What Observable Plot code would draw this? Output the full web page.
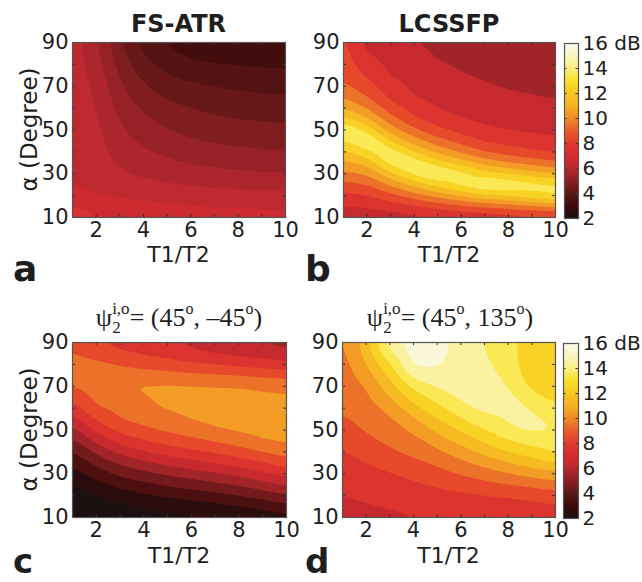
<!DOCTYPE html>
<html><head><meta charset="utf-8">
<script src="https://cdn.jsdelivr.net/npm/d3@7"></script>
<script src="https://cdn.jsdelivr.net/npm/@observablehq/plot@0.6"></script>
<style>
html,body{margin:0;padding:0;background:#fff;}
#root{position:relative;width:642px;height:582px;overflow:hidden;background:#fff;}
#root > svg{position:absolute;}
</style></head><body><div id="root"></div>
<script>
// ---------- axes / categories ----------
const T = [1, 2, 3, 4, 5, 6, 7, 8, 9, 10];                 // T1/T2 sample columns
const alpha5 = [90, 85, 80, 75, 70, 65, 60, 55, 50, 45, 40, 35, 30, 25, 20, 15, 10];
const alpha10 = [90, 80, 70, 60, 50, 40, 30, 20, 10];
const xTickLabels = [2, 4, 6, 8, 10];
const yTickLabels = [10, 30, 50, 70, 90];
const xTickMarks = [2, 3, 4, 5, 6, 7, 8, 9];
const yTickMarks = [20, 30, 40, 50, 60, 70, 80];
const cbTicks = [2, 4, 6, 8, 10, 12, 14, 16];

// ---------- colour map (dB) ----------
const cbStops = [2, 3, 4, 5, 6, 7, 8, 9, 10, 11, 12, 13, 14, 15, 16];
const cbColors = ["#1c1010", "#3c0a0a", "#5c1616", "#8a1f22", "#b82830", "#d42c2e", "#e23a2c",
  "#ea5a2a", "#f08a28", "#f5b024", "#f6c622", "#f9e02a", "#faf080", "#f9f4c0", "#fafaf0"];

// ---------- contour levels ----------
const levelsA = [2, 2.5, 3, 3.5, 4, 4.5, 5, 5.5, 6, 6.5, 7, 7.5];
const levelsB = [2, 3, 4, 5, 6, 7, 8, 9, 10, 11, 12, 13, 14, 15];
const levelsC = [-5, 2, 3, 4, 5, 6, 7, 8, 9, 10, 11];
const levelsD = [2, 3, 4, 5, 6, 7, 8, 9, 10, 11, 12, 13, 14, 15];

// ---------- (a) FS-ATR, rows alpha 90..10 step 10, cols T1..T10 ----------
const fsAtr = [
  [6.25, 5.62, 4.52, 3.80, 3.40, 3.20, 3.10, 3.05, 3.02, 3.01],
  [6.28, 5.75, 4.83, 4.14, 3.80, 3.60, 3.52, 3.48, 3.44, 3.42],
  [6.30, 5.92, 5.10, 4.57, 4.25, 4.08, 4.02, 3.92, 3.88, 3.85],
  [6.33, 6.05, 5.33, 4.93, 4.64, 4.52, 4.38, 4.31, 4.27, 4.23],
  [6.36, 6.12, 5.55, 5.25, 5.02, 4.86, 4.76, 4.69, 4.65, 4.62],
  [6.40, 6.20, 5.80, 5.57, 5.38, 5.25, 5.16, 5.10, 5.05, 5.02],
  [6.45, 6.30, 6.05, 5.90, 5.80, 5.70, 5.63, 5.58, 5.53, 5.51],
  [6.60, 6.45, 6.42, 6.35, 6.30, 6.25, 6.20, 6.18, 6.17, 6.15],
  [7.50, 7.15, 7.05, 6.98, 6.85, 6.80, 6.78, 6.75, 6.72, 6.70]
];

// ---------- (b) LCSSFP, rows alpha 90..10 step 5 ----------
const lcssfp = [
  [8.20, 6.70, 6.35, 6.05, 5.80, 5.65, 5.55, 5.45, 5.40, 5.35],
  [8.37, 7.02, 6.55, 6.25, 5.90, 5.78, 5.67, 5.55, 5.50, 5.45],
  [8.60, 7.43, 6.75, 6.45, 6.09, 5.90, 5.78, 5.67, 5.60, 5.55],
  [8.83, 7.86, 6.95, 6.65, 6.30, 6.05, 5.90, 5.80, 5.72, 5.68],
  [9.20, 8.40, 7.34, 6.80, 6.52, 6.28, 6.10, 5.92, 5.85, 5.80],
  [9.93, 8.99, 7.79, 6.99, 6.74, 6.52, 6.34, 6.16, 6.05, 5.95],
  [11.00, 9.89, 8.45, 7.53, 6.96, 6.76, 6.58, 6.43, 6.32, 6.22],
  [12.33, 11.10, 9.38, 8.16, 7.51, 7.02, 6.82, 6.69, 6.59, 6.50],
  [14.05, 12.63, 10.55, 9.20, 8.23, 7.65, 7.18, 6.96, 6.86, 6.78],
  [12.91, 14.25, 11.91, 10.49, 9.37, 8.53, 7.88, 7.58, 7.35, 7.14],
  [11.82, 12.66, 13.70, 11.94, 10.76, 9.80, 8.98, 8.51, 8.08, 7.86],
  [10.75, 11.37, 13.50, 13.80, 12.43, 11.52, 10.57, 10.02, 9.57, 9.17],
  [9.75, 10.17, 11.75, 13.30, 14.25, 13.60, 12.50, 12.02, 11.50, 11.02],
  [8.62, 9.02, 10.19, 11.38, 12.46, 13.50, 14.30, 14.00, 13.60, 13.30],
  [7.74, 7.94, 8.67, 9.52, 10.33, 11.05, 11.83, 12.29, 12.81, 13.30],
  [7.02, 7.16, 7.48, 7.83, 8.24, 8.68, 9.06, 9.35, 9.69, 10.07],
  [6.05, 6.10, 6.40, 6.60, 6.85, 6.97, 7.10, 7.25, 7.38, 7.50]
];

// ---------- (c) psi = (45, -45), rows alpha 90..10 step 5 ----------
const psiMinus45 = [
  [8.60, 8.02, 7.60, 7.30, 6.95, 6.75, 6.40, 6.10, 5.90, 5.60],
  [9.04, 8.62, 8.21, 7.88, 7.62, 7.20, 6.90, 6.70, 6.53, 6.23],
  [9.51, 9.24, 8.93, 8.67, 8.45, 8.21, 8.02, 7.71, 7.48, 7.29],
  [9.45, 9.85, 9.58, 9.46, 9.36, 9.23, 9.10, 9.02, 8.87, 8.74],
  [9.04, 9.56, 9.86, 10.25, 10.14, 10.08, 10.03, 10.02, 9.82, 9.66],
  [8.34, 9.28, 9.59, 9.93, 10.48, 10.45, 10.38, 10.32, 10.23, 10.16],
  [7.56, 8.97, 9.32, 9.60, 10.07, 10.40, 10.60, 10.65, 10.53, 10.43],
  [6.65, 8.15, 9.05, 9.27, 9.63, 10.05, 10.28, 10.46, 10.59, 10.70],
  [5.63, 7.28, 8.30, 8.84, 9.17, 9.49, 9.92, 10.15, 10.31, 10.43],
  [4.74, 6.23, 7.39, 7.92, 8.40, 8.76, 9.10, 9.52, 10.03, 10.16],
  [3.93, 5.18, 6.31, 6.95, 7.43, 7.78, 8.12, 8.52, 9.02, 9.57],
  [3.27, 4.28, 5.20, 5.76, 6.30, 6.73, 7.12, 7.48, 7.94, 8.47],
  [2.57, 3.47, 4.24, 4.70, 5.14, 5.51, 5.88, 6.33, 6.84, 7.37],
  [1.90, 2.67, 3.35, 3.75, 4.14, 4.44, 4.73, 5.08, 5.55, 6.13],
  [1.30, 1.98, 2.45, 2.81, 3.14, 3.42, 3.70, 4.02, 4.40, 4.85],
  [0.80, 1.40, 1.80, 2.10, 2.30, 2.40, 2.60, 2.90, 3.24, 3.71],
  [0.40, 0.90, 1.20, 1.50, 1.70, 1.80, 1.95, 2.20, 2.30, 2.50]
];

// ---------- (d) psi = (45, 135), rows alpha 90..10 step 10 ----------
const psi135 = [
  [9.70, 11.55, 14.80, 15.80, 15.40, 14.60, 13.90, 13.40, 12.40, 12.20],
  [9.50, 10.89, 12.85, 15.40, 15.10, 14.60, 14.20, 13.50, 12.30, 12.20],
  [9.30, 9.92, 11.50, 13.27, 14.10, 14.60, 14.40, 14.05, 12.60, 12.45],
  [9.10, 9.52, 10.25, 11.67, 12.71, 13.69, 14.45, 14.40, 14.02, 13.07],
  [8.62, 9.12, 9.53, 10.14, 11.23, 12.15, 13.02, 13.90, 14.35, 14.20],
  [7.91, 8.36, 8.89, 9.28, 9.74, 10.45, 11.27, 12.02, 12.60, 13.26],
  [7.45, 7.68, 7.91, 8.24, 8.60, 9.02, 9.42, 9.90, 10.36, 10.75],
  [7.02, 7.16, 7.32, 7.48, 7.62, 7.74, 7.90, 7.97, 8.15, 8.37],
  [6.50, 6.70, 6.80, 6.90, 6.95, 7.02, 7.10, 7.20, 7.30, 7.40]
];

const root = document.getElementById("root");
const FONT = "DejaVu Sans, Liberation Sans, sans-serif";

function place(node, left, top) {
  node.style.left = left + "px";
  node.style.top = top + "px";
  root.appendChild(node);
}

function panel({grid, rows, levels, step, blur, frame, svgLeft, svgTop, mr}) {
  const [fx, fy, fw, fh] = frame;
  const ml = fx - svgLeft, mt = fy - svgTop, mb = 40;
  const points = grid.flatMap((row, i) => row.map((v, j) => ({T: T[j], alpha: rows[i], v})));
  const plot = Plot.plot({
    width: ml + fw + mr, height: mt + fh + mb,
    marginLeft: ml, marginTop: mt, marginRight: mr, marginBottom: mb,
    style: {fontFamily: FONT, fontSize: "21px", background: "transparent", color: "#1e1e1e", overflow: "visible"},
    x: {domain: [1, 10], label: null},
    y: {domain: [10, 90], label: null},
    color: {type: "linear", domain: cbStops.map(s => s - step / 2), range: cbColors, clamp: true, interpolate: "rgb"},
    marks: [
      Plot.contour(points, {
        x: "T", y: "alpha", fill: "v", interpolate: "barycentric",
        thresholds: levels, blur, pixelSize: 1, clip: true
      }),
      Plot.tickX(xTickMarks, {x: d => d, insetTop: fh - 3, stroke: "#333"}),
      Plot.tickX(xTickMarks, {x: d => d, insetBottom: fh - 3, stroke: "#333"}),
      Plot.tickY(yTickMarks, {y: d => d, insetRight: fw - 3, stroke: "#333"}),
      Plot.tickY(yTickMarks, {y: d => d, insetLeft: fw - 3, stroke: "#333"}),
      Plot.frame({stroke: "#555", strokeWidth: 1.2}),
      Plot.axisX(xTickLabels, {tickSize: 0, tickPadding: 5, label: null, fontSize: 21}),
      Plot.axisY(yTickLabels, {tickSize: 0, tickPadding: 4, label: null, fontSize: 21})
    ]
  });
  place(plot, svgLeft, svgTop);
}

function colorbar({frame, svgLeft, svgTop}) {
  const [fx, fy, fw, fh] = frame;
  const ml = fx - svgLeft, mt = fy - svgTop, mr = 642 - (fx + fw), mb = 20;
  const plot = Plot.plot({
    width: ml + fw + mr, height: mt + fh + mb,
    marginLeft: ml, marginTop: mt, marginRight: mr, marginBottom: mb,
    style: {fontFamily: FONT, fontSize: "20px", background: "transparent", color: "#1e1e1e", overflow: "visible"},
    x: {domain: [0, 1], axis: null},
    y: {domain: [cbStops[0], cbStops[cbStops.length - 1]], axis: null},
    color: {type: "linear", domain: cbStops, range: cbColors, interpolate: "rgb"},
    marks: [
      Plot.raster({x1: 0, x2: 1, y1: cbStops[0], y2: cbStops[cbStops.length - 1], fill: (x, y) => y, pixelSize: 1}),
      Plot.tickY(cbTicks, {y: d => d, insetRight: fw - 2.5, stroke: "#333"}),
      Plot.tickY(cbTicks, {y: d => d, insetLeft: fw - 2.5, stroke: "#333"}),
      Plot.frame({stroke: "#555", strokeWidth: 1.2}),
      Plot.axisY(cbTicks, {anchor: "right", tickSize: 0, tickPadding: 4, label: null, fontSize: 20,
        tickFormat: d => d === 16 ? "16 dB" : String(d)})
    ]
  });
  place(plot, svgLeft, svgTop);
}

panel({grid: fsAtr, rows: alpha10, levels: levelsA, step: 0.5, blur: 7, frame: [72, 42, 213, 175], svgLeft: 0, svgTop: 0, mr: 14});
panel({grid: lcssfp, rows: alpha5, levels: levelsB, step: 1, blur: 4, frame: [343, 42, 212, 175], svgLeft: 300, svgTop: 0, mr: 5});
colorbar({frame: [564, 43, 14, 175], svgLeft: 560, svgTop: 0});
panel({grid: psiMinus45, rows: alpha5, levels: levelsC, step: 1, blur: 5, frame: [72, 342, 214, 175], svgLeft: 0, svgTop: 300, mr: 14});
panel({grid: psi135, rows: alpha10, levels: levelsD, step: 1, blur: 7, frame: [342, 342, 213, 175], svgLeft: 300, svgTop: 300, mr: 5});
colorbar({frame: [563, 343, 15, 175], svgLeft: 560, svgTop: 300});

// ---------- text overlay ----------
const svg = d3.select(root).append("svg").attr("width", 642).attr("height", 582)
  .style("left", "0px").style("top", "0px").style("pointer-events", "none")
  .attr("font-family", FONT).attr("fill", "#1e1e1e");

function txt(x, y, s, size, opts = {}) {
  const t = svg.append("text").attr("x", x).attr("y", y).attr("font-size", size)
    .attr("text-anchor", opts.anchor || "middle").text(s);
  if (opts.bold) t.attr("font-weight", "bold");
  if (opts.rotate) t.attr("transform", `rotate(-90,${x},${y})`);
  return t;
}

txt(178.5, 32, "FS-ATR", 24, {bold: true});
txt(449, 32, "LCSSFP", 24, {bold: true});
for (const cy of [129.5, 429.5]) txt(37, cy, "α (Degree)", 23, {rotate: true});
txt(178.5, 262, "T1/T2", 22);
txt(449, 262, "T1/T2", 22);
txt(179, 563, "T1/T2", 22);
txt(448.5, 563, "T1/T2", 22);
txt(13, 281, "a", 36, {bold: true, anchor: "start"});
txt(305, 281, "b", 36, {bold: true, anchor: "start"});
txt(13, 573, "c", 34, {bold: true, anchor: "start"});
txt(305, 573, "d", 34, {bold: true, anchor: "start"});

function formula(cx, y, pieces) {
  const g = svg.append("g").attr("font-family", "Liberation Serif, Times New Roman, serif");
  let x = 0;
  for (const p of pieces) {
    if (p.stack) {
      const a = g.append("text").attr("x", x).attr("y", y - 12).attr("font-size", 17).text(p.stack[0]);
      const b = g.append("text").attr("x", x).attr("y", y + 7).attr("font-size", 17).text(p.stack[1]);
      x += Math.max(a.node().getComputedTextLength(), b.node().getComputedTextLength());
    } else if (p.sup) {
      const a = g.append("text").attr("x", x).attr("y", y - 12).attr("font-size", 16).text(p.sup);
      x += a.node().getComputedTextLength();
    } else {
      const a = g.append("text").attr("x", x).attr("y", y).attr("font-size", 26).text(p.t);
      x += a.node().getComputedTextLength();
    }
  }
  g.attr("transform", `translate(${cx - x / 2},0)`);
}
formula(179, 326, [{t: "ψ"}, {stack: ["i,o", "2"]}, {t: "= (45"}, {sup: "o"}, {t: ", –45"}, {sup: "o"}, {t: ")"}]);
formula(450, 326, [{t: "ψ"}, {stack: ["i,o", "2"]}, {t: "= (45"}, {sup: "o"}, {t: ", 135"}, {sup: "o"}, {t: ")"}]);
</script></body></html>
